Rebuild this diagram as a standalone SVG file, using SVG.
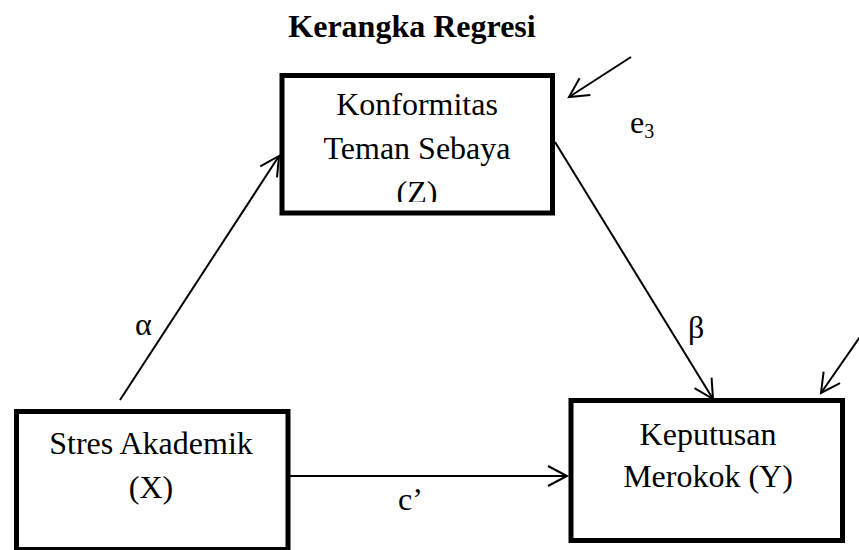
<svg xmlns="http://www.w3.org/2000/svg" width="859" height="550" viewBox="0 0 859 550">
  <style>
    .box { fill: #ffffff; stroke: #000000; stroke-width: 5; }
    .t { font-family: "Liberation Serif", "Times New Roman", serif; font-size: 32px; fill: #000000; }
    .title { font-family: "Liberation Serif", "Times New Roman", serif; font-size: 32px; font-weight: bold; fill: #000000; }
    .edge { stroke: #000000; stroke-width: 2; fill: none; }
  </style>
  <defs>
    <marker id="open" markerUnits="userSpaceOnUse" viewBox="-22 -12 24 24" markerWidth="24" markerHeight="24" refX="0" refY="0" orient="auto" overflow="visible">
      <path d="M-19,-10 L0,0 L-19,10" fill="none" stroke="#000000" stroke-width="2"/>
    </marker>
    <clipPath id="zclip">
      <rect x="285" y="79" width="265" height="123"/>
    </clipPath>
  </defs>
  <rect width="859" height="550" fill="#ffffff"/>

  <text class="title" x="412" y="37" text-anchor="middle">Kerangka Regresi</text>

  <g id="node-Z">
    <rect class="box" x="282" y="75.5" width="270.5" height="137.5"/>
    <g clip-path="url(#zclip)">
      <text class="t" x="417" y="115" text-anchor="middle">Konformitas</text>
      <text class="t" x="417" y="159" text-anchor="middle">Teman Sebaya</text>
      <text class="t" x="417" y="203" text-anchor="middle">(Z)</text>
    </g>
  </g>

  <g id="node-X">
    <rect class="box" x="16.5" y="411.5" width="271.5" height="138"/>
    <text class="t" x="151" y="454" text-anchor="middle">Stres Akademik</text>
    <text class="t" x="151" y="498" text-anchor="middle">(X)</text>
  </g>

  <g id="node-Y">
    <rect class="box" x="571" y="400.5" width="271.5" height="140"/>
    <text class="t" x="708" y="445" text-anchor="middle">Keputusan</text>
    <text class="t" x="708" y="487" text-anchor="middle">Merokok (Y)</text>
  </g>

  <g id="connectors">
    <line class="edge" x1="120" y1="400" x2="279" y2="156" marker-end="url(#open)"/>
    <line class="edge" x1="555" y1="142" x2="713" y2="399" marker-end="url(#open)"/>
    <line class="edge" x1="290" y1="476" x2="567" y2="476" marker-end="url(#open)"/>
    <line class="edge" x1="631" y1="57" x2="569" y2="97" marker-end="url(#open)"/>
    <line class="edge" x1="862" y1="334" x2="821" y2="393" marker-end="url(#open)"/>
  </g>

  <g id="labels">
    <text class="t" x="135" y="335">α</text>
    <text class="t" x="688" y="338">β</text>
    <text class="t" x="398" y="510">c’</text>
    <text class="t" x="630" y="133">e<tspan font-size="20" dy="5">3</tspan></text>
  </g>
</svg>
